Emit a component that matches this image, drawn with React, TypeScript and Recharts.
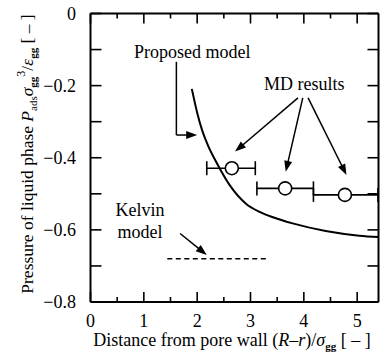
import React from 'react';
import {
  ComposedChart, Line, Scatter, ErrorBar, XAxis, YAxis, ReferenceLine, ReferenceDot, Label,
} from 'recharts';

const FONT = '"Liberation Serif", "Times New Roman", serif';

const W = 380;
const H = 364;
const MARGIN = { top: 13.5, right: 1.5, bottom: 12, left: 10.5 };
const Y_AXIS_W = 80;
const X_AXIS_H = 50;
const PLOT_W = W - MARGIN.left - MARGIN.right - Y_AXIS_W;
const PLOT_H = H - MARGIN.top - MARGIN.bottom - X_AXIS_H;

// proposed model curve
const modelX = [1.9, 2.0, 2.1, 2.2, 2.38, 2.61, 2.92, 3.17, 3.42, 3.79, 4.41, 5.04, 5.4];
const modelY = [-0.209, -0.275, -0.327, -0.365, -0.418, -0.476, -0.528, -0.55, -0.565, -0.582, -0.603, -0.616, -0.62];

// MD results with x error (left, right)
const mdX = [2.65, 3.65, 4.77];
const mdY = [-0.429, -0.485, -0.503];
const mdErrLow = [0.47, 0.53, 0.59];
const mdErrHigh = [0.44, 0.53, 0.62];

// Kelvin model
const kelvinX = [1.44, 3.29];
const kelvinY = [-0.68, -0.68];

const xTicks = [0, 0.5, 1, 1.5, 2, 2.5, 3, 3.5, 4, 4.5, 5];
const yTicks = [-0.8, -0.7, -0.6, -0.5, -0.4, -0.3, -0.2, -0.1, 0];

const modelData = modelX.map((x, i) => ({ x, y: modelY[i] }));
const mdData = mdX.map((x, i) => ({ x, y: mdY[i], ex: [mdErrLow[i], mdErrHigh[i]] }));
const kelvinData = kelvinX.map((x, i) => ({ x, y: kelvinY[i] }));

const XTick = (props: any) => {
  const { x, y, payload } = props;
  const v = payload.value;
  const major = Number.isInteger(v);
  const len = major ? 10 : 5;
  return (
    <g>
      <line x1={x} y1={y} x2={x} y2={y - len} stroke="#000" strokeWidth={1.6} />
      <line x1={x} y1={y - PLOT_H} x2={x} y2={y - PLOT_H + len} stroke="#000" strokeWidth={1.6} />
      {major && (
        <text x={x} y={y + 25} textAnchor="middle" fontFamily={FONT} fontSize={18} fill="#000">
          {v}
        </text>
      )}
    </g>
  );
};

const YTick = (props: any) => {
  const { x, y, payload } = props;
  const v = payload.value;
  const major = Math.round(v * 10) % 2 === 0;
  const label = v === 0 ? '0' : '\u2212' + Math.abs(v).toFixed(1);
  return (
    <g>
      <line x1={x} y1={y} x2={x + 11} y2={y} stroke="#000" strokeWidth={1.6} />
      <line x1={x + PLOT_W - 11} y1={y} x2={x + PLOT_W} y2={y} stroke="#000" strokeWidth={1.6} />
      {major && (
        <text x={x - 14.5} y={y + 6} textAnchor="end" fontFamily={FONT} fontSize={18} fill="#000">
          {label}
        </text>
      )}
    </g>
  );
};

const Arrow = (props: any) => {
  const { x1, y1, x2, y2, head } = props;
  if (!head) {
    return <line x1={x1} y1={y1} x2={x2} y2={y2} stroke="#000" strokeWidth={1.5} />;
  }
  const dx = x2 - x1;
  const dy = y2 - y1;
  const d = Math.sqrt(dx * dx + dy * dy) || 1;
  const ux = dx / d;
  const uy = dy / d;
  const hl = 11;
  const hw = 4;
  const bx = x2 - ux * hl;
  const by = y2 - uy * hl;
  const pts = `${x2},${y2} ${bx - uy * hw},${by + ux * hw} ${bx + uy * hw},${by - ux * hw}`;
  return (
    <g>
      <line x1={x1} y1={y1} x2={bx + ux * 2} y2={by + uy * 2} stroke="#000" strokeWidth={1.5} />
      <polygon points={pts} fill="#000" />
    </g>
  );
};

const arrows = [
  { from: [1.61, -0.134], to: [1.61, -0.337], head: false },
  { from: [1.61, -0.337], to: [2.0, -0.337], head: true },
  { from: [1.68, -0.61], to: [2.18, -0.67], head: true },
  { from: [3.89, -0.234], to: [2.71, -0.383], head: true },
  { from: [3.98, -0.234], to: [3.66, -0.439], head: true },
  { from: [4.08, -0.234], to: [4.8, -0.448], head: true },
];

const notes = [
  { x: 1.91, y: -0.123, lines: ['Proposed model'] },
  { x: 4.01, y: -0.212, lines: ['MD results'] },
  { x: 0.93, y: -0.562, lines: ['Kelvin', 'model'] },
];

const NoteText = (lines: string[]) => (props: any) => {
  const { cx, cy } = props;
  return (
    <text x={cx} y={cy} textAnchor="middle" fontFamily={FONT} fontSize={18} fill="#000">
      {lines.map((l, i) => (
        <tspan key={i} x={cx} dy={i === 0 ? 0 : 22}>{l}</tspan>
      ))}
    </text>
  );
};

const Circle = (props: any) => {
  const { cx, cy } = props;
  return <circle cx={cx} cy={cy} r={6.5} fill="#fff" stroke="#000" strokeWidth={1.6} />;
};

const XLabel = () => (
  <text x={232} y={346} textAnchor="middle" fontFamily={FONT} fontSize={18} fill="#000">
    Distance from pore wall (<tspan fontStyle="italic">R</tspan>–<tspan fontStyle="italic">r</tspan>)/
    <tspan fontStyle="italic">σ</tspan>
    <tspan fontSize={11} fontWeight="bold" dy={4}>gg</tspan>
    <tspan dy={-4}> [ – ]</tspan>
  </text>
);

const YLabel = () => (
  <text
    x={33}
    y={154}
    transform="rotate(-90 33 154)"
    textAnchor="middle"
    fontFamily={FONT}
    fontSize={17.5}
    fill="#000"
  >
    Pressure of liquid phase <tspan fontStyle="italic">P</tspan>
    <tspan fontSize={11} dy={4}>ads</tspan>
    <tspan fontStyle="italic" dy={-4}>σ</tspan>
    <tspan fontSize={11} fontWeight="bold" dy={4}>gg</tspan>
    <tspan fontSize={12} dy={-12}>3</tspan>
    <tspan dy={8}>/</tspan>
    <tspan fontStyle="italic">ε</tspan>
    <tspan fontSize={11} fontWeight="bold" dy={4}>gg</tspan>
    <tspan dy={-4}> [ – ]</tspan>
  </text>
);

export default function App() {
  return (
    <div style={{ position: 'absolute', left: 0, top: 0, width: W, height: H, background: '#fff' }}>
      <ComposedChart width={W} height={H} margin={MARGIN}>
        <XAxis
          type="number"
          dataKey="x"
          domain={[0, 5.4]}
          ticks={xTicks}
          interval={0}
          tick={<XTick />}
          tickLine={false}
          tickSize={0}
          tickMargin={0}
          height={X_AXIS_H}
          axisLine={{ stroke: '#000', strokeWidth: 2 }}
        >
          <Label content={<XLabel />} />
        </XAxis>
        <YAxis
          type="number"
          dataKey="y"
          domain={[-0.8, 0]}
          ticks={yTicks}
          interval={0}
          tick={<YTick />}
          tickLine={false}
          tickSize={0}
          tickMargin={0}
          width={Y_AXIS_W}
          axisLine={{ stroke: '#000', strokeWidth: 2 }}
        >
          <Label content={<YLabel />} />
        </YAxis>
        <ReferenceLine y={0} stroke="#000" strokeWidth={2} />
        <ReferenceLine x={5.4} stroke="#000" strokeWidth={2} />
        <Line
          data={modelData}
          dataKey="y"
          type="monotone"
          stroke="#000"
          strokeWidth={2}
          dot={false}
          isAnimationActive={false}
        />
        <Line
          data={kelvinData}
          dataKey="y"
          type="linear"
          stroke="#000"
          strokeWidth={1.5}
          strokeDasharray="5 3.5"
          dot={false}
          isAnimationActive={false}
        />
        <Scatter data={mdData} dataKey="y" shape={<Circle />} isAnimationActive={false}>
          <ErrorBar dataKey="ex" direction="x" width={7} stroke="#000" strokeWidth={1.6} />
        </Scatter>
        {arrows.map((a, i) => (
          <ReferenceLine
            key={'a' + i}
            segment={[{ x: a.from[0], y: a.from[1] }, { x: a.to[0], y: a.to[1] }]}
            shape={(p: any) => <Arrow {...p} head={a.head} />}
          />
        ))}
        {notes.map((n, i) => (
          <ReferenceDot key={'n' + i} x={n.x} y={n.y} r={0} shape={NoteText(n.lines)} />
        ))}
      </ComposedChart>
    </div>
  );
}
